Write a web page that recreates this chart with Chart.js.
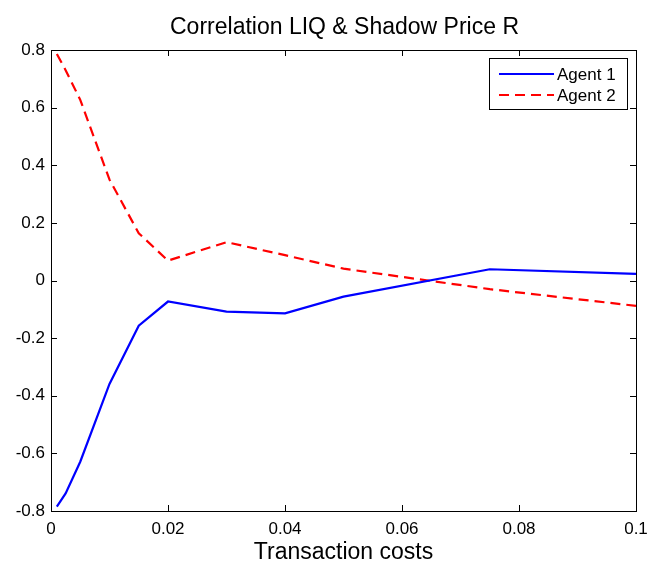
<!DOCTYPE html>
<html>
<head>
<meta charset="utf-8">
<script src="https://cdn.jsdelivr.net/npm/chart.js@4/dist/chart.umd.min.js"></script>
<style>
  html, body { margin: 0; padding: 0; background: #fff; }
  #wrap { width: 649px; height: 565px; position: relative; }
</style>
</head>
<body>
<div id="wrap"><canvas id="corrChart"></canvas></div>
<script>
// data
const costs1 = [0.001, 0.0025, 0.005, 0.01, 0.015, 0.02, 0.03, 0.04, 0.05, 0.075, 0.1];
const agent1 = [-0.785, -0.739, -0.629, -0.359, -0.157, -0.073, -0.108, -0.114, -0.056, 0.039, 0.023];
const costs2 = [0.001, 0.0025, 0.005, 0.01, 0.015, 0.02, 0.03, 0.04, 0.05, 0.075, 0.1];
const agent2 = [0.786, 0.73, 0.627, 0.35, 0.164, 0.069, 0.133, 0.088, 0.041, -0.03, -0.088];
const seriesNames = ['Agent 1', 'Agent 2'];
const xTickLabels = ['0', '0.02', '0.04', '0.06', '0.08', '0.1'];
const yTickLabels = ['-0.8', '-0.6', '-0.4', '-0.2', '0', '0.2', '0.4', '0.6', '0.8'];

const FONT = '"Liberation Sans", Arial, Helvetica, sans-serif';

function toPoints(xs, ys) {
  return xs.map((x, i) => ({ x: x, y: ys[i] }));
}

// MATLAB-ish box: frame, inward ticks on all sides, title, xlabel, legend
const matlabBox = {
  id: 'matlabBox',
  afterDraw(chart) {
    const ctx = chart.ctx;
    const a = chart.chartArea;
    const xs = chart.scales.x;
    const ys = chart.scales.y;
    const tl = 6;
    ctx.save();
    ctx.strokeStyle = '#000';
    ctx.lineWidth = 1;
    ctx.strokeRect(Math.round(a.left) + 0.5, Math.round(a.top) + 0.5,
      Math.round(a.right - a.left), Math.round(a.bottom - a.top));
    ctx.beginPath();
    xs.ticks.forEach(t => {
      const px = Math.round(xs.getPixelForValue(t.value)) + 0.5;
      ctx.moveTo(px, a.bottom); ctx.lineTo(px, a.bottom - tl);
      ctx.moveTo(px, a.top); ctx.lineTo(px, a.top + tl);
    });
    ys.ticks.forEach(t => {
      const py = Math.round(ys.getPixelForValue(t.value)) + 0.5;
      ctx.moveTo(a.left, py); ctx.lineTo(a.left + tl, py);
      ctx.moveTo(a.right, py); ctx.lineTo(a.right - tl, py);
    });
    ctx.stroke();

    // title and x label
    ctx.fillStyle = '#000';
    ctx.textAlign = 'center';
    ctx.textBaseline = 'alphabetic';
    ctx.font = '23px ' + FONT;
    ctx.fillText('Correlation LIQ & Shadow Price R', (a.left + a.right) / 2 + 1, 34);
    ctx.fillText('Transaction costs', (a.left + a.right) / 2, 559);

    // legend
    const lx = 489, ly = 58, lw = 138, lh = 51;
    ctx.fillStyle = '#fff';
    ctx.fillRect(lx, ly, lw, lh);
    ctx.strokeStyle = '#000';
    ctx.strokeRect(lx + 0.5, ly + 0.5, lw, lh);
    ctx.textBaseline = 'middle';
    chart.data.datasets.forEach((ds, i) => {
      const yy = ly + 16 + i * 21;
      ctx.strokeStyle = ds.borderColor;
      ctx.lineWidth = 2;
      ctx.setLineDash(ds.borderDash || []);
      ctx.beginPath();
      ctx.moveTo(lx + 10, yy);
      ctx.lineTo(lx + 65, yy);
      ctx.stroke();
      ctx.setLineDash([]);
      ctx.fillStyle = '#000';
      ctx.textAlign = 'left';
      ctx.font = '17px ' + FONT;
      ctx.fillText(ds.label, lx + 68, yy + 1);
    });
    ctx.restore();
  }
};

new Chart(document.getElementById('corrChart'), {
  type: 'line',
  data: {
    datasets: [
      {
        label: seriesNames[0],
        data: toPoints(costs1, agent1),
        borderColor: '#0000ff',
        borderWidth: 2.2,
        pointRadius: 0,
        tension: 0,
        fill: false
      },
      {
        label: seriesNames[1],
        data: toPoints(costs2, agent2),
        borderColor: '#ff0000',
        borderWidth: 2.2,
        borderDash: [10, 6],
        pointRadius: 0,
        tension: 0,
        fill: false
      }
    ]
  },
  options: {
    responsive: true,
    maintainAspectRatio: false,
    animation: false,
    layout: { padding: { top: 50, right: 13, left: 0, bottom: 0 } },
    plugins: {
      legend: { display: false },
      title: { display: false },
      tooltip: { enabled: false }
    },
    scales: {
      x: {
        type: 'linear',
        min: 0,
        max: 0.1,
        grid: { display: false, drawTicks: false },
        border: { display: false },
        afterFit: s => { s.height = 54; s.paddingLeft = 0; s.paddingRight = 0; },
        ticks: {
          stepSize: 0.02,
          padding: 8,
          color: '#000',
          font: { family: FONT, size: 17 },
          maxRotation: 0,
          callback: (v, i) => xTickLabels[i]
        }
      },
      y: {
        min: -0.8,
        max: 0.8,
        grid: { display: false, drawTicks: false },
        border: { display: false },
        afterFit: s => { s.width = 51; s.paddingTop = 0; s.paddingBottom = 0; },
        ticks: {
          stepSize: 0.2,
          padding: 6,
          color: '#000',
          font: { family: FONT, size: 17 },
          callback: (v, i) => yTickLabels[i]
        }
      }
    }
  },
  plugins: [matlabBox]
});
</script>
</body>
</html>
